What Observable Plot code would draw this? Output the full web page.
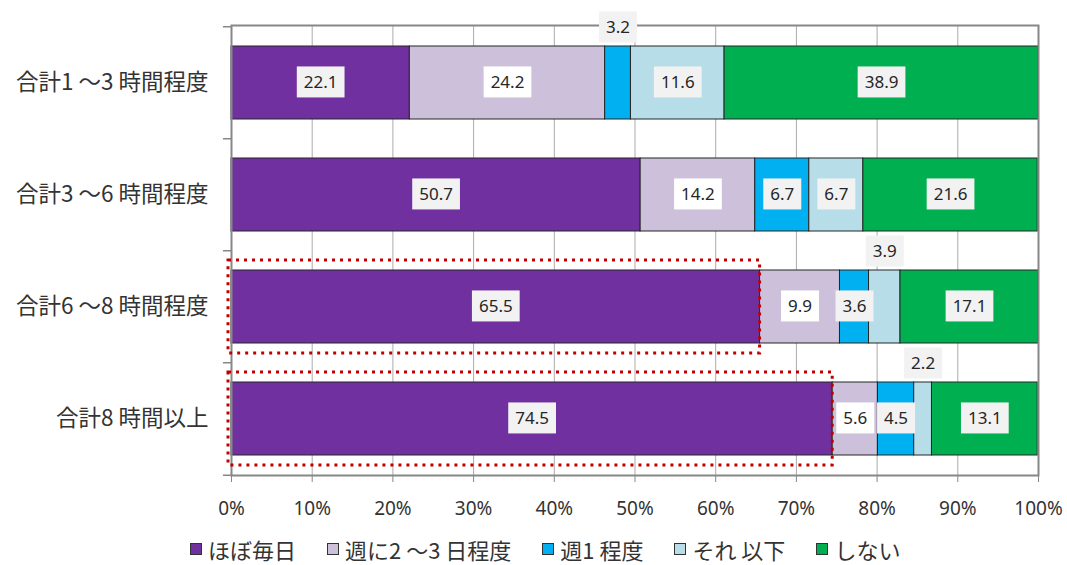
<!DOCTYPE html>
<html>
<head>
<meta charset="utf-8">
<script src="https://cdn.jsdelivr.net/npm/d3@7"></script>
<script src="https://cdn.jsdelivr.net/npm/@observablehq/plot@0.6"></script>
<style>
  body { margin: 0; background: #fff; }
  #chart { position: relative; width: 1067px; height: 565px; }
  #legend {
    position: absolute; left: 190px; top: 534px; height: 30px;
    display: flex; align-items: center; gap: 31px;
    font-family: "Noto Sans CJK JP", "Noto Sans", sans-serif;
    font-size: 22px; line-height: 30px; color: #333; white-space: nowrap;
  }
  #legend .item { display: flex; align-items: center; gap: 6px; }
  #legend .sw { width: 12px; height: 12px; border: 1px solid #333; box-sizing: border-box; }
</style>
</head>
<body>
<div id="chart"></div>
<script>
// Rows (categories) and answer groups (series)
const categories = ["合計1 ～3 時間程度", "合計3 ～6 時間程度", "合計6 ～8 時間程度", "合計8 時間以上"];
const series = ["ほぼ毎日", "週に2 ～3 日程度", "週1 程度", "それ 以下", "しない"];
const colors = ["#7030A0", "#CCC0DA", "#00B0F0", "#B7DEE8", "#00B050"];

// Percentages per series, in category order
const daily = [22.1, 50.7, 65.5, 74.5];
const twoToThree = [24.2, 14.2, 9.9, 5.6];
const weekly = [3.2, 6.7, 3.6, 4.5];
const rarely = [11.6, 6.7, 3.9, 2.2];
const never = [38.9, 21.6, 17.1, 13.1];

const xTicks = [0, 10, 20, 30, 40, 50, 60, 70, 80, 90, 100];

// Labels drawn above the bar instead of inside: [category index, series index]
const raisedLabels = [[0, 2], [2, 3], [3, 3]];
// Categories whose daily share is outlined in red
const highlighted = [2, 3];

const seriesValues = [daily, twoToThree, weekly, rarely, never];
const table = [];
categories.forEach((c, ci) => {
  series.forEach((s, si) => {
    table.push({
      category: c,
      series: s,
      value: seriesValues[si][ci],
      raised: raisedLabels.some(([a, b]) => a === ci && b === si),
      light: si === 1
    });
  });
});
const outlined = highlighted.map(ci => ({category: categories[ci], value: daily[ci]}));

const W = 1067, H = 535;
const M = {top: 25, right: 29, bottom: 60, left: 231};
const step = (H - M.top - M.bottom) / categories.length;
const fmt = d => d.value.toFixed(1);
const labelStyle = {fontSize: 17, fill: "#262626"};
const stackText = (text, extra = {}) =>
  Plot.stackX({x: "value", y: "category", z: "series", text, ...labelStyle, ...extra});

const chart = Plot.plot({
  width: W, height: H,
  marginTop: M.top, marginRight: M.right, marginBottom: M.bottom, marginLeft: M.left,
  style: {fontFamily: "'Noto Sans', 'Noto Sans CJK JP', sans-serif", background: "#fff", color: "#333"},
  x: {domain: [0, 100], label: null},
  y: {domain: categories, paddingInner: 0.35, paddingOuter: 0.175, label: null},
  color: {domain: series, range: colors},
  marks: [
    Plot.ruleX(xTicks.slice(1, -1), {stroke: "#ababab", strokeWidth: 1}),
    Plot.barX(table, Plot.stackX({x: "value", y: "category", z: "series", fill: "series", stroke: "#262626", strokeWidth: 1})),
    Plot.frame({stroke: "#878787", strokeWidth: 2}),
    // category boundary ticks on the left edge
    Plot.ruleY(categories, {y: d => d, x1: -1, x2: 0, dy: -step / 2, stroke: "#878787", strokeWidth: 1.5}),
    Plot.ruleY(categories.slice(-1), {y: d => d, x1: -1, x2: 0, dy: step / 2, stroke: "#878787", strokeWidth: 1.5}),
    Plot.axisX({ticks: xTicks, tickFormat: d => d + "%", tickSize: 7, tickPadding: 19, fontSize: 19, stroke: "#878787", fill: "#333"}),
    Plot.axisY({tickSize: 0, tickPadding: 23, fontSize: 22.5, fill: "#333", fontFamily: "'Noto Sans CJK JP', sans-serif"}),
    Plot.barX(outlined, {x1: 0, x2: "value", y: "category", fill: "none", stroke: "#C00000", strokeWidth: 3, strokeDasharray: "3,5", insetTop: -10, insetBottom: -10, insetLeft: -3}),
    Plot.text(table, stackText(d => (!d.raised && d.light) ? fmt(d) : null, {ariaDescription: "value label white"})),
    Plot.text(table, stackText(d => (!d.raised && !d.light) ? fmt(d) : null, {ariaDescription: "value label"})),
    Plot.text(table, stackText(d => d.raised ? fmt(d) : null, {ariaDescription: "value label", dy: -55}))
  ]
});

const host = document.getElementById("chart");
host.appendChild(chart);

// boxed backgrounds behind the value labels
function boxLabels() {
  const ns = "http://www.w3.org/2000/svg";
  chart.querySelectorAll('g[aria-description^="value label"]').forEach(g => {
    const fill = g.getAttribute("aria-description").endsWith("white") ? "#ffffff" : "#f2f2f2";
    g.querySelectorAll("text").forEach(t => {
      if (!t.textContent) return;
      const b = t.getBBox();
      const r = document.createElementNS(ns, "rect");
      r.setAttribute("x", b.x - 7);
      r.setAttribute("y", b.y - 4);
      r.setAttribute("width", b.width + 14);
      r.setAttribute("height", b.height + 8);
      r.setAttribute("fill", fill);
      const tr = t.getAttribute("transform");
      if (tr) r.setAttribute("transform", tr);
      t.parentNode.insertBefore(r, t);
    });
  });
}
boxLabels();

// legend under the chart
const legend = document.createElement("div");
legend.id = "legend";
series.forEach((s, i) => {
  const item = document.createElement("div");
  item.className = "item";
  const sw = document.createElement("span");
  sw.className = "sw";
  sw.style.background = colors[i];
  const label = document.createElement("span");
  label.textContent = s;
  item.append(sw, label);
  legend.appendChild(item);
});
host.appendChild(legend);
</script>
</body>
</html>
